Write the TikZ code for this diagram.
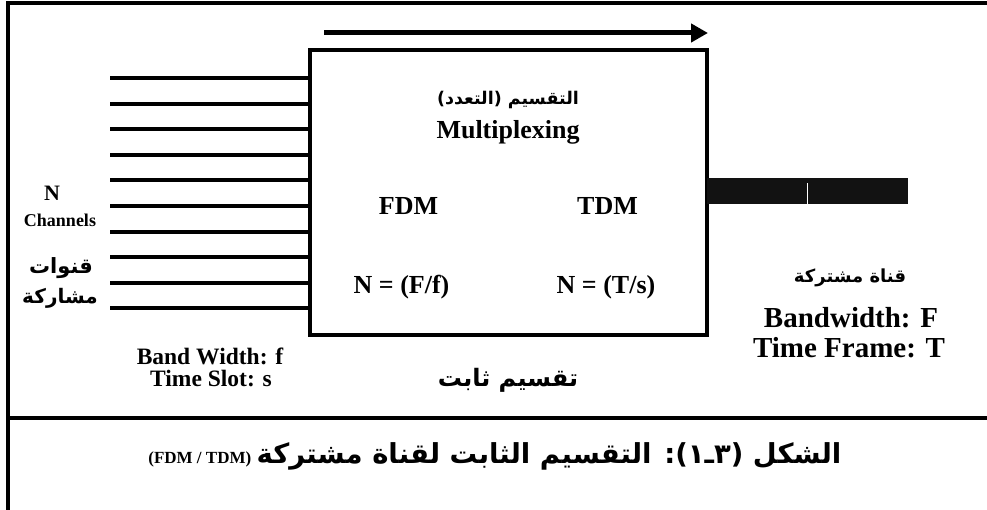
\documentclass[tikz,border=0pt]{standalone}
\usepackage{fontspec}
\setmainfont{Liberation Serif}
\newfontfamily\arabicfont[Script=Arabic]{DejaVu Sans}
\TeXXeTstate=1
\usetikzlibrary{arrows.meta,calc}
\newcommand{\pxsize}[1]{\fontsize{#1}{#1}\selectfont}

\begin{document}
\begin{tikzpicture}[
    x=1pt, y=-1pt,
    rule/.style={line width=4pt},
    chan/.style={line width=4pt},
    muxbox/.style={rectangle, draw, line width=4pt, minimum width=397pt, minimum height=285pt, inner sep=0pt},
    busbar/.style={rectangle, fill=black!93, minimum width=201pt, minimum height=26pt, inner sep=0pt},
    lbl/.style={inner sep=0pt, font=\bfseries\pxsize{#1}},
    arlbl/.style={inner sep=0pt, font=\arabicfont\bfseries\pxsize{#1}},
    flow/.style={-{Triangle[length=17pt, width=18pt]}, line width=5pt}
]
    \useasboundingbox (0,0) rectangle (987,510);

    % frame and separator
    \draw [rule] (8,512) -- (8,3) -- (989,3);
    \draw [rule] (8,418) -- (989,418);

    % multiplexer
    \node [muxbox] (mux) at (508.5,192.5) {};
    \coordinate (flowA) at (324,33);
    \coordinate (flowB) at (708,33);
    \draw [flow] (flowA) -- (flowB);

    \node [arlbl=17.5] (title) at (508,100) {\beginR التقسيم (التعدد)\endR};
    \node [lbl=26] (mplx) at (508,132) {Multiplexing};
    \node [lbl=26] (fdm) at (408.5,206) {FDM};
    \node [lbl=26] (tdm) at (607.5,206) {TDM};
    \node [lbl=26] (nf) at (401.5,287) {N = (F/f)};
    \node [lbl=26] (nt) at (606,287) {N = (T/s)};

    % input channels
    \foreach \i in {0,...,9} {
        \coordinate (in\i) at (110,78+25.6*\i);
        \draw [chan] (in\i) -- (in\i -| mux.west);
    }
    \node [lbl=22] (nn) at (52,193) {N};
    \node [lbl=18] (chn) at (60,220) {Channels};
    \node [arlbl=21] (qa) at (61,268) {\beginR قنوات\endR};
    \node [arlbl=20] (mu) at (60,298) {\beginR مشاركة\endR};
    \node [lbl=23.5] (bw) at (210,356) {Band Width: f};
    \node [lbl=23.5] (ts) at (211,379) {Time Slot: s};
    \node [arlbl=24] (fixed) at (508,380) {\beginR تقسيم ثابت\endR};

    % shared channel
    \node [busbar] (bus) at (807.5,191) {};
    \draw [white, line width=1.2pt] (bus.south) -- ([yshift=-5pt]bus.north);
    \node [arlbl=18] (shared) at (850,278) {\beginR قناة مشتركة\endR};
    \node [lbl=29] (bwF) at (851,318) {Bandwidth: F};
    \node [lbl=29] (tfT) at (849,348) {Time Frame: T};

    % caption
    \node [arlbl=27.5] (cap) at (549,456) {\beginR الشكل (٣ـ١): التقسيم الثابت لقناة مشتركة\endR};
    \node [lbl=17, anchor=base east] (capl) at ([xshift=-5pt]cap.base west) {(FDM / TDM)};
\end{tikzpicture}
\end{document}
